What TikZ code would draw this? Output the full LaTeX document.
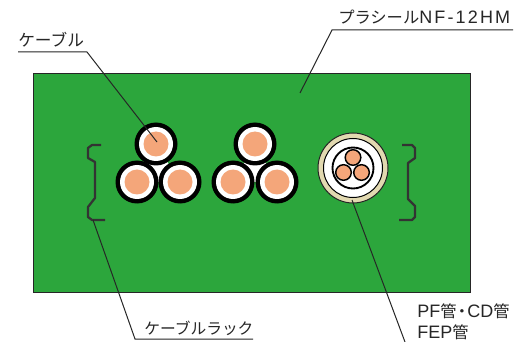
\documentclass[tikz,border=0pt]{standalone}
\usepackage{fontspec}
\setmainfont{Liberation Sans}
\newfontfamily\jp{Noto Sans CJK JP}
\newcommand{\jt}[2][12.2]{{\jp\fontsize{#1}{14}\selectfont #2}}
\definecolor{gr}{HTML}{2CA63C}
\definecolor{pe}{HTML}{F4A67A}
\definecolor{be}{HTML}{E2D9B0}
\tikzset{
 leader/.style={draw=black!85,line width=0.75pt},
 lab/.style={font=\fontsize{13.5}{15}\selectfont,text=black!85,inner sep=0pt,anchor=base west},
 rack/.style={draw=black!80,line width=1.7pt,line join=round},
 cab/.pic={\fill[black] (0,0) circle (21.5);\fill[white] (0,0) circle (17);\fill[pe] (0,0) circle (12.5);}
}
\begin{document}
\begin{tikzpicture}[x=0.75pt,y=-0.75pt]
\useasboundingbox (0,0) rectangle (521,342);
\fill[white] (0,0) rectangle (521,342);
\draw[fill=gr,draw=black!85,line width=0.75pt] (33,74) rectangle (470,292);
% cable groups
\fill[white] (156,144)--(137,182)--(180,182)--cycle;
\fill[white] (255,144)--(233,182)--(277,182)--cycle;
\foreach \p in {(156,144),(137,182),(180,182),(255,144),(233,182),(277,182)}
 \path \p pic[x=0.75pt,y=-0.75pt] {cab};
% pipe
\draw[fill=be,draw=black!85,line width=0.75pt] (353,168) circle (35);
\draw[fill=white,draw=black,line width=0.75pt] (353,168) circle (29.5);
\draw[draw=black,line width=1.4pt] (353,168) circle (20.5);
\foreach \p in {(353,157.5),(343.5,172.5),(361.5,172.5)}
 \draw[fill=pe,draw=black,line width=1.1pt] \p circle (7.8);
% racks
\draw[rack] (101,145)--(92,145)--(88,148)--(88,158)--(95,162)--(95,198)--(88,207)--(88,217)--(92,220)--(105,220);
\draw[rack] (402,145)--(412,145)--(415,148)--(415,158)--(408,163)--(408,199)--(415,206)--(415,217)--(412,220)--(399,220);
% labels
\node[lab] (lcable) at (18,47) {\jt[12.5]{ケーブル}};
\node[lab] (lnf) at (338,24) {\jt{プラシール}\addfontfeature{LetterSpace=12}NF-12HM};
\node[lab] (lrack) at (144,334) {\jt[11.8]{ケーブルラック}};
\node[lab] (lpf) at (417,317) {PF\jt{管}\hspace{-2pt}\jt{・}\hspace{-2pt}CD\jt{管}};
\node[lab] (lfep) at (417,338) {FEP\jt{管}};
% leaders
\coordinate (a1) at (18,52);\coordinate (a2) at (87,52);\coordinate (a3) at (157,142);
\draw[leader] (a1)--(a2)--(a3);
\coordinate (b1) at (513,30);\coordinate (b2) at (332,30);\coordinate (b3) at (300,93);
\draw[leader] (b1)--(b2)--(b3);
\coordinate (c1) at (253,339);\coordinate (c2) at (135,339);\coordinate (c3) at (93,220);
\draw[leader] (c1)--(c2)--(c3);
\coordinate (d1) at (352,200);\coordinate (d2) at (405,342);
\draw[leader] (d1)--(d2);
\end{tikzpicture}
\end{document}
